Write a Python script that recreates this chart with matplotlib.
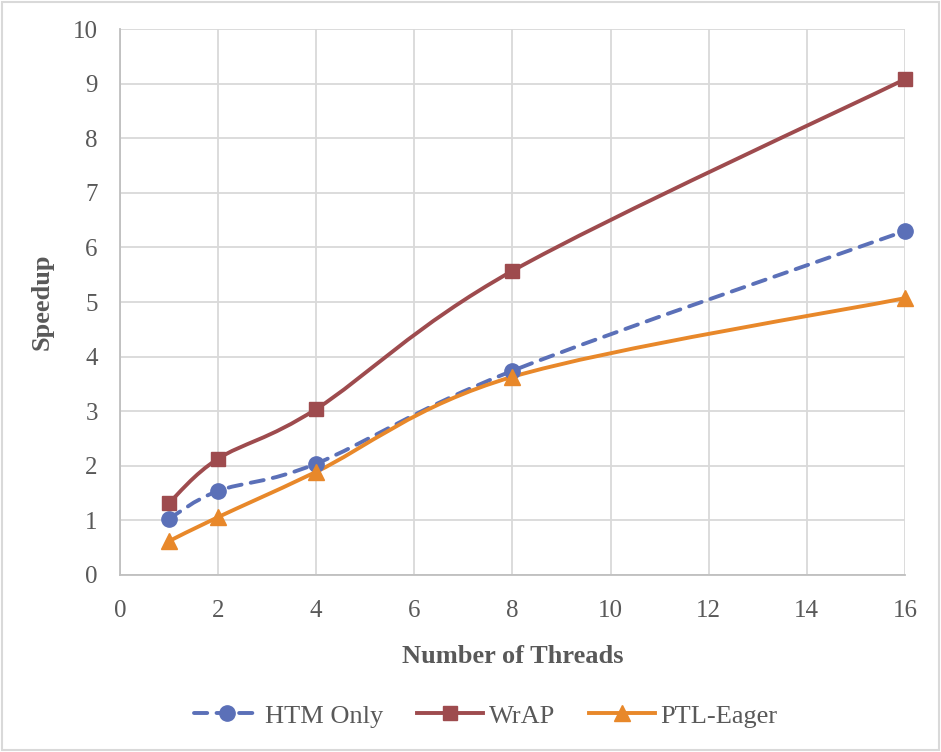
import matplotlib
matplotlib.use("Agg")
import matplotlib.pyplot as plt
import numpy as np
from matplotlib.path import Path
from matplotlib.patches import PathPatch, Rectangle
from matplotlib.lines import Line2D

threads = [1, 2, 4, 8, 16]
htm_only = [1.03, 1.54, 2.04, 3.74, 6.30]
wrap = [1.32, 2.13, 3.04, 5.57, 9.08]
ptl_eager = [0.62, 1.06, 1.89, 3.63, 5.07]

x_ticks = [0, 2, 4, 6, 8, 10, 12, 14, 16]
y_ticks = list(range(0, 11))

c_htm = '#5B70B8'
c_wrap = '#9E4B4E'
c_ptl = '#E8882A'
txt = '#595959'
font = ['Liberation Serif', 'DejaVu Serif']


#--------------------------------------------------------------------------------------
def smoothPath(xs, ys):
  # excel style smoothed line : catmull-rom converted to cubic bezier
  p = np.column_stack([xs, ys]).astype(float)
  n = len(p)
  verts = [p[0]]
  codes = [Path.MOVETO]
  for i in range(n - 1):
    p0 = p[i - 1] if i > 0 else p[i]
    p3 = p[i + 2] if i + 2 < n else p[i + 1]
    c1 = p[i] + (p[i + 1] - p0) / 6.0
    c2 = p[i + 1] - (p3 - p[i]) / 6.0
    verts += [c1, c2, p[i + 1]]
    codes += [Path.CURVE4] * 3
  return Path(verts, codes)


fig = plt.figure(figsize=(9.41, 7.52), dpi=100)
ax = fig.add_axes([0.1275, 0.2354, 0.8342, 0.726])

series = [
  {'name': 'HTM Only', 'y': htm_only, 'color': c_htm, 'marker': 'o', 'ls': (0, (3.4, 2.4)), 'ms': 11},
  {'name': 'WrAP', 'y': wrap, 'color': c_wrap, 'marker': 's', 'ls': '-', 'ms': 10},
  {'name': 'PTL-Eager', 'y': ptl_eager, 'color': c_ptl, 'marker': '^', 'ls': '-', 'ms': 11},
]

handles = []
for s in series:
  patch = PathPatch(smoothPath(threads, s['y']), facecolor='none', edgecolor=s['color'],
                    linewidth=2.8, linestyle=s['ls'], capstyle='round', joinstyle='round', zorder=3)
  ax.add_patch(patch)
  ax.plot(threads, s['y'], linestyle='none', marker=s['marker'], markersize=s['ms'],
          color=s['color'], markeredgecolor=s['color'], zorder=4, clip_on=False)
  handles.append(Line2D([0], [0], color=s['color'], linewidth=2.8, linestyle=s['ls'],
                        dash_capstyle='round', marker=s['marker'], markersize=s['ms'],
                        label=s['name']))

ax.set_xlim(0, 16)
ax.set_ylim(0, 10)
ax.set_xticks(x_ticks)
ax.set_yticks(y_ticks)
ax.grid(True, color='#D9D9D9', linewidth=1.3, zorder=0)
ax.set_axisbelow(True)
for side in ['top', 'right']:
  ax.spines[side].set_visible(False)
for side in ['left', 'bottom']:
  ax.spines[side].set_color('#BFBFBF')
  ax.spines[side].set_linewidth(1.3)
ax.tick_params(axis='both', length=0, labelsize=18, labelcolor=txt)
ax.tick_params(axis='y', pad=16)
ax.tick_params(axis='x', pad=18)
for lab in ax.get_xticklabels() + ax.get_yticklabels():
  lab.set_family(font)

ax.set_xlabel('Number of Threads', fontsize=19, fontweight='bold', color=txt, family=font)
ax.set_ylabel('Speedup', fontsize=19, fontweight='bold', color=txt, family=font)
ax.xaxis.set_label_coords(0.5, -0.128)
ax.yaxis.set_label_coords(-0.085, 0.5)

leg = fig.legend(handles=handles, loc='center', bbox_to_anchor=(0.516, 0.048), ncol=3,
                 frameon=False, handlelength=2.5, columnspacing=1.3, handletextpad=0.2,
                 prop={'family': font, 'size': 19})
for t in leg.get_texts():
  t.set_color(txt)

fig.patches.append(Rectangle((0.002, 0.002), 0.996, 0.996, transform=fig.transFigure,
                             facecolor='none', edgecolor='#D9D9D9', linewidth=1.5))

plt.savefig('out.png', dpi=100)
plt.close()
